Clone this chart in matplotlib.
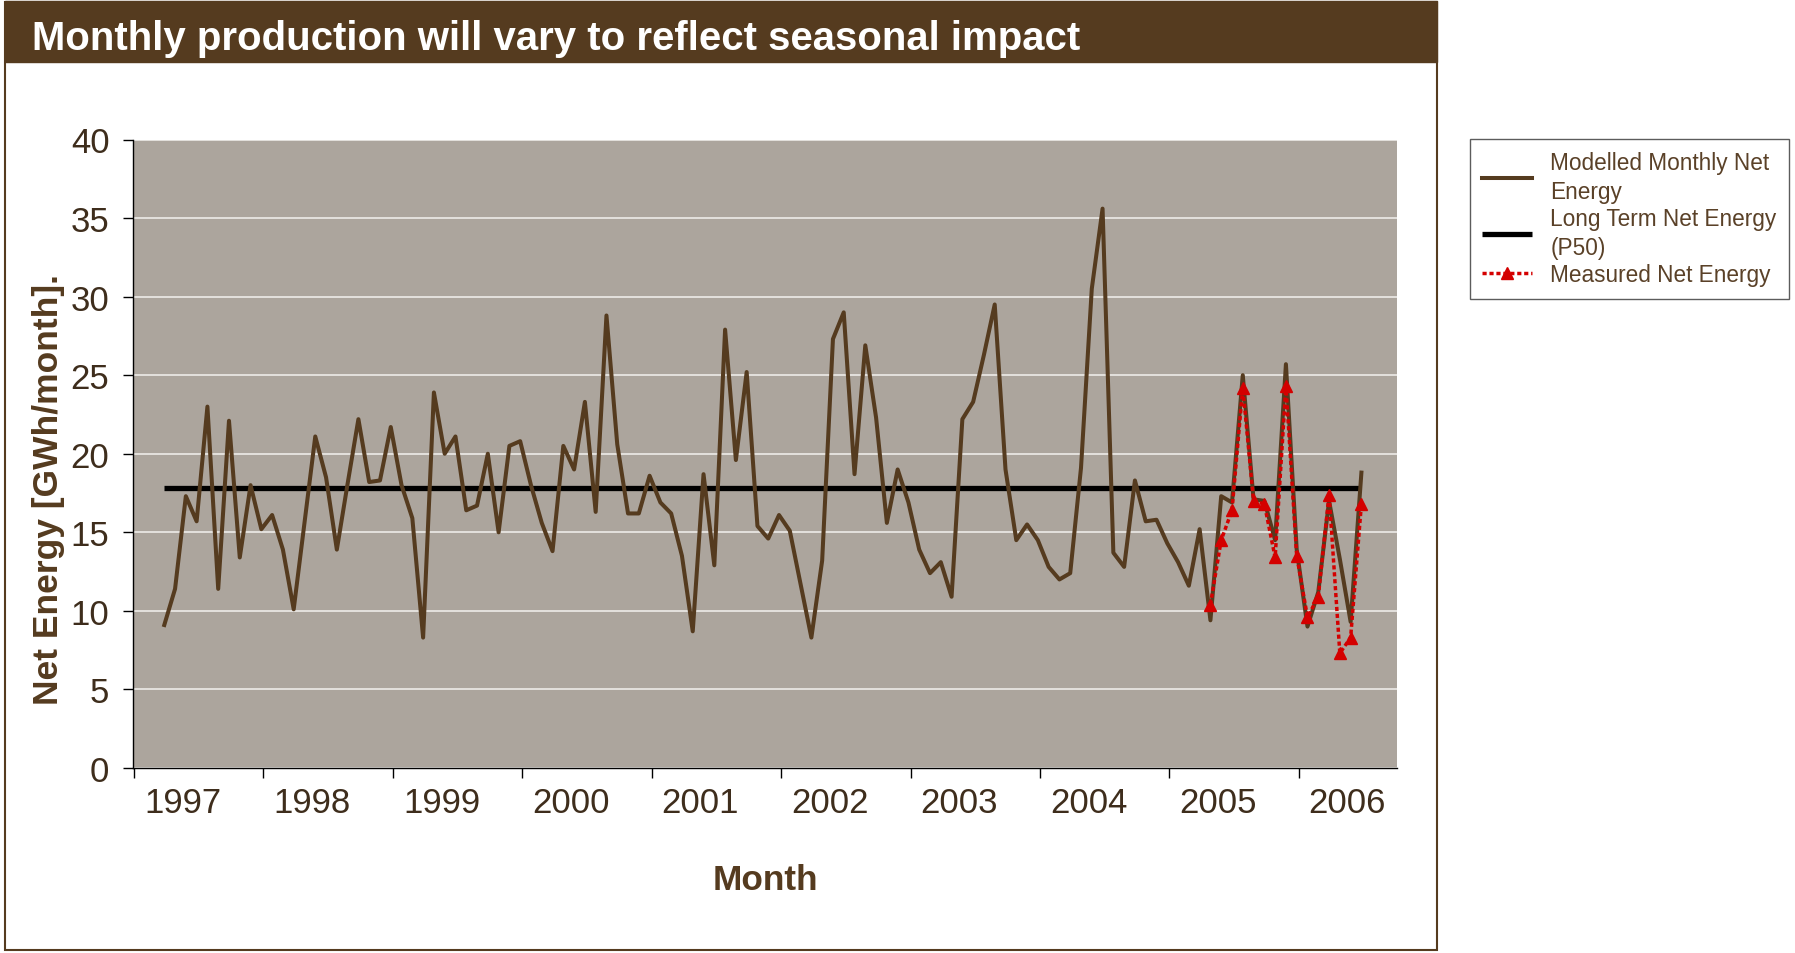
import numpy as np
import matplotlib.pyplot as plt
from matplotlib.patches import Rectangle

plt.rcParams['font.family'] = ['Liberation Sans', 'DejaVu Sans']

# monthly values (GWh/month)
modelled = [9.1, 11.4, 17.3, 15.7, 23.0, 11.4, 22.1, 13.4, 18.0, 15.2,
            16.1, 13.9, 10.1, 15.6, 21.1, 18.5, 13.9, 18.1, 22.2, 18.2,
            18.3, 21.7, 18.0, 15.9, 8.3, 23.9, 20.0, 21.1, 16.4, 16.7,
            20.0, 15.0, 20.5, 20.8, 18.0, 15.6, 13.8, 20.5, 19.0, 23.3,
            16.3, 28.8, 20.6, 16.2, 16.2, 18.6, 16.9, 16.2, 13.5, 8.7,
            18.7, 12.9, 27.9, 19.6, 25.2, 15.4, 14.6, 16.1, 15.1, 11.7,
            8.3, 13.2, 27.3, 29.0, 18.7, 26.9, 22.3, 15.6, 19.0, 16.9,
            13.9, 12.4, 13.1, 10.9, 22.2, 23.3, 26.3, 29.5, 19.0, 14.5,
            15.5, 14.5, 12.8, 12.0, 12.4, 19.1, 30.5, 35.6, 13.7, 12.8,
            18.3, 15.7, 15.8, 14.3, 13.1, 11.6, 15.2, 9.4, 17.3, 16.9,
            25.0, 17.1, 17.0, 14.5, 25.7, 13.9, 9.0, 11.2, 17.0, 13.3,
            9.3, 18.8]
measured = [10.4, 14.5, 16.4, 24.2, 17.0, 16.8, 13.4, 24.3, 13.5, 9.6,
            10.9, 17.4, 7.3, 8.3, 16.8]
p50 = 17.8
years = [str(y) for y in range(1997, 2007)]
labels = ['Modelled Monthly Net\nEnergy', 'Long Term Net Energy\n(P50)',
          'Measured Net Energy']

BROWN = '#553B1F'
TEXT = '#3E2D1C'
W, H = 1795, 954

fig = plt.figure(figsize=(W / 100, H / 100), dpi=100)

# title bar and frame
fig.patches.append(Rectangle((5 / W, 3 / H), 1432 / W, 948 / H, fill=False,
                             edgecolor=BROWN, lw=1.5, transform=fig.transFigure))
fig.patches.append(Rectangle((5 / W, 1 - 63 / H), 1432 / W, 61 / H,
                             facecolor=BROWN, edgecolor=BROWN, transform=fig.transFigure))
fig.text(32 / W, 1 - 39 / H, 'Monthly production will vary to reflect seasonal impact',
         color='white', fontsize=28.9, fontweight='bold', va='center', ha='left')

ax = fig.add_axes([133 / W, 1 - 769 / H, 1264 / W, 628.5 / H])
ax.set_facecolor('#ACA59D')

x = np.arange(len(modelled)) + 2.8
x_meas = x[len(modelled) - len(measured):]

l2, = ax.plot(x, np.full(len(x), p50), color='black', lw=3.8,
              solid_capstyle='butt', zorder=3)
l1, = ax.plot(x, modelled, color=BROWN, lw=2.9, zorder=4)
l3, = ax.plot(x_meas, measured, color='#D40000', ls=(0, (1.2, 0.8)), lw=2.5,
              marker='^', ms=9, zorder=5)

ax.set_xlim(-0.1, 117.1)
ax.set_ylim(0, 40)
ax.set_yticks(range(0, 41, 5))
ax.yaxis.grid(True, color='#EDEBE8', lw=1.2)
ax.set_axisbelow(True)

ax.set_xticks(np.arange(0, 109, 12))
ax.set_xticklabels([])
ax.set_xticks(np.arange(len(years)) * 12 + 4.5, minor=True)
ax.set_xticklabels(years, minor=True)
ax.tick_params(axis='x', which='major', direction='out', length=7, width=1)
ax.tick_params(axis='x', which='minor', length=0, pad=13, labelsize=25, labelcolor=TEXT)
ax.tick_params(axis='y', direction='out', length=7, width=1, pad=10,
               labelsize=25, labelcolor=TEXT)

for s in ['top', 'right']:
    ax.spines[s].set_visible(False)
for s in ['left', 'bottom']:
    ax.spines[s].set_color('black')
    ax.spines[s].set_linewidth(1)

ax.set_xlabel('Month', fontsize=25.4, fontweight='bold', color=BROWN)
ax.xaxis.set_label_coords(0.5, -0.178)
ax.xaxis.label.set_va('center')
ax.set_ylabel('Net Energy [GWh/month].', fontsize=25.5, fontweight='bold', color=BROWN)
ax.yaxis.set_label_coords(-0.067, 0.444)
ax.yaxis.label.set_va('center')

leg = fig.legend([l1, l2, l3], labels, loc='upper left',
                 bbox_to_anchor=(1470 / W, 1 - 140 / H), borderaxespad=0,
                 fontsize=16.3, frameon=True, fancybox=False, handlelength=2.2,
                 handletextpad=0.8, labelspacing=0.2, borderpad=0.55)
leg.get_frame().set_edgecolor('#333333')
leg.get_frame().set_linewidth(1)
for t in leg.get_texts():
    t.set_color('#5A4128')
    t.set_linespacing(1.3)

fig.savefig('out.png', dpi=100)
